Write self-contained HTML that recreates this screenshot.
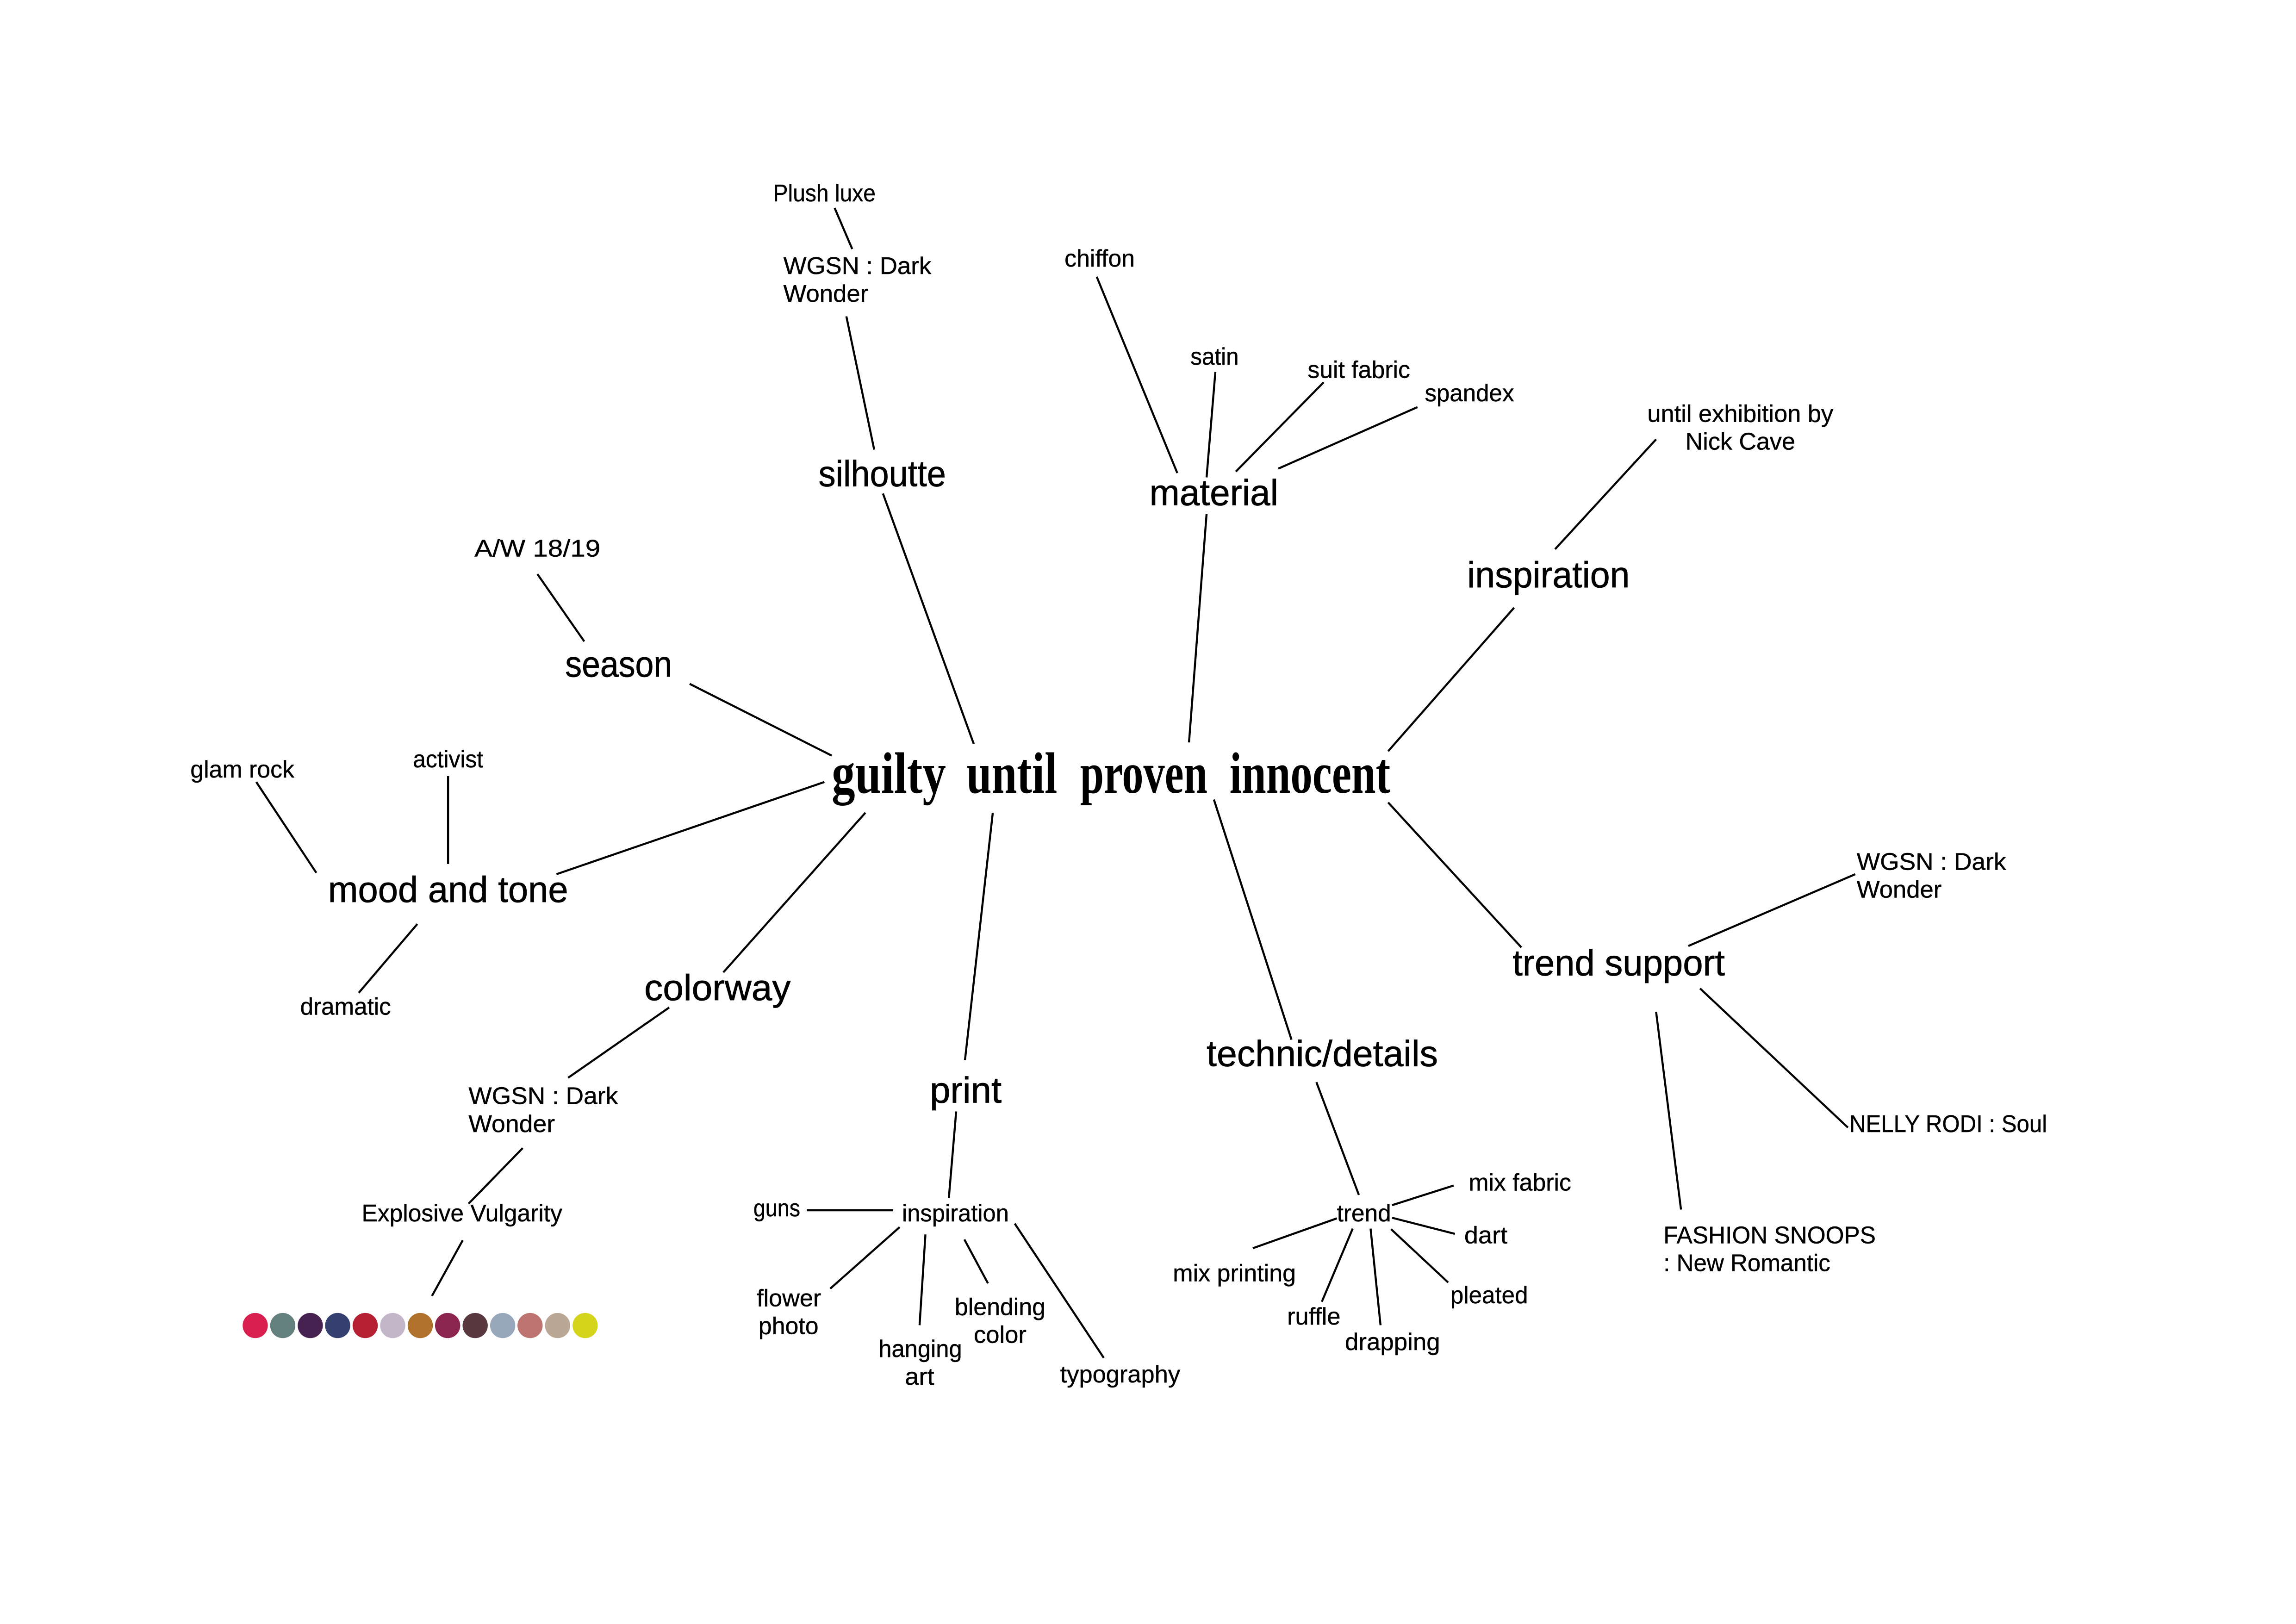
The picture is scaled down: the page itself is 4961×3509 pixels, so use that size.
<!DOCTYPE html>
<html><head><meta charset="utf-8"><title>guilty until proven innocent</title>
<style>
html,body{margin:0;padding:0;background:#fff}
svg{display:block}
text{font-family:"Liberation Sans",sans-serif;fill:#000;stroke:#000;stroke-width:.15px}
.s{font-size:16.5px}
.b{font-size:25px;stroke-width:.25px}
.t{font-family:"Liberation Serif",serif;font-weight:700;font-size:40px;stroke:none}
line{stroke:#000;stroke-width:1.4}
</style></head><body>
<svg xmlns="http://www.w3.org/2000/svg" width="4961" height="3509" viewBox="0 0 1568 1109" style="width:4961px;height:3509px">
<rect width="1568" height="1109" fill="#fff"/>
<g>
<line x1="603" y1="337" x2="665" y2="508"/><line x1="824" y1="351" x2="812" y2="507"/><line x1="1034" y1="415" x2="948" y2="513"/><line x1="948" y1="548" x2="1039" y2="647"/><line x1="829" y1="546" x2="882" y2="710"/><line x1="678" y1="555" x2="659" y2="724"/><line x1="591" y1="555" x2="494" y2="664"/><line x1="563" y1="534" x2="380" y2="597"/><line x1="568" y1="516" x2="471" y2="467"/>
<line x1="399" y1="438" x2="367" y2="392"/><line x1="597" y1="307" x2="578" y2="216"/><line x1="582" y1="170" x2="570" y2="142"/>
<line x1="804" y1="323" x2="749" y2="189"/><line x1="824" y1="326" x2="830" y2="254"/><line x1="844" y1="322" x2="904" y2="261"/><line x1="873" y1="320" x2="968" y2="278"/>
<line x1="1062" y1="375" x2="1131" y2="300"/>
<line x1="216" y1="596" x2="175" y2="534"/><line x1="306" y1="590" x2="306" y2="530"/><line x1="285" y1="631" x2="245" y2="678"/>
<line x1="457" y1="688" x2="388" y2="736"/><line x1="357" y1="784" x2="320" y2="822"/><line x1="316" y1="847" x2="295" y2="885"/>
<line x1="653" y1="759" x2="648" y2="818"/><line x1="610" y1="826.5" x2="551" y2="826.5"/><line x1="614.4" y1="838" x2="567" y2="880"/><line x1="632" y1="843" x2="628" y2="905"/><line x1="658.6" y1="846.4" x2="674.7" y2="876.4"/><line x1="693" y1="835.6" x2="753.8" y2="927.3"/>
<line x1="899" y1="739" x2="928" y2="816"/><line x1="950.7" y1="823" x2="992.7" y2="809.6"/><line x1="950.7" y1="831.6" x2="993.6" y2="842.6"/><line x1="950" y1="839.4" x2="989" y2="875.8"/><line x1="936" y1="839" x2="942.8" y2="905"/><line x1="923.8" y1="839" x2="902.7" y2="889"/><line x1="913" y1="832" x2="855.6" y2="852.4"/>
<line x1="1153" y1="646" x2="1267" y2="597"/><line x1="1161" y1="675" x2="1262" y2="770"/><line x1="1131" y1="691" x2="1148" y2="826"/>
</g>
<g>
<text class="t" x="568" y="541.4" textLength="78" lengthAdjust="spacingAndGlyphs">guilty</text>
<text class="t" x="660" y="541.4" textLength="62" lengthAdjust="spacingAndGlyphs">until</text>
<text class="t" x="737.6" y="541.4" textLength="87" lengthAdjust="spacingAndGlyphs">proven</text>
<text class="t" x="839.7" y="541.4" textLength="109.8" lengthAdjust="spacingAndGlyphs">innocent</text>
</g>
<g>
<text class="b" x="559" y="332" textLength="87" lengthAdjust="spacingAndGlyphs">silhoutte</text>
<text class="b" x="785" y="345" textLength="88" lengthAdjust="spacingAndGlyphs">material</text>
<text class="b" x="1002" y="401" textLength="111" lengthAdjust="spacingAndGlyphs">inspiration</text>
<text class="b" x="386" y="462" textLength="73" lengthAdjust="spacingAndGlyphs">season</text>
<text class="b" x="224" y="616" textLength="164" lengthAdjust="spacingAndGlyphs">mood and tone</text>
<text class="b" x="440" y="683" textLength="100" lengthAdjust="spacingAndGlyphs">colorway</text>
<text class="b" x="635" y="753" textLength="49" lengthAdjust="spacingAndGlyphs">print</text>
<text class="b" x="824" y="728" textLength="158" lengthAdjust="spacingAndGlyphs">technic/details</text>
<text class="b" x="1033" y="666" textLength="145" lengthAdjust="spacingAndGlyphs">trend support</text>
</g>
<g>
<text class="s" x="528" y="137.5" textLength="70" lengthAdjust="spacingAndGlyphs">Plush luxe</text>
<text class="s" x="535" y="187" textLength="101" lengthAdjust="spacingAndGlyphs">WGSN : Dark</text>
<text class="s" x="535" y="206" textLength="58" lengthAdjust="spacingAndGlyphs">Wonder</text>
<text class="s" x="727" y="182" textLength="48" lengthAdjust="spacingAndGlyphs">chiffon</text>
<text class="s" x="813" y="249" textLength="33" lengthAdjust="spacingAndGlyphs">satin</text>
<text class="s" x="893" y="258" textLength="70" lengthAdjust="spacingAndGlyphs">suit fabric</text>
<text class="s" x="973" y="274" textLength="61" lengthAdjust="spacingAndGlyphs">spandex</text>
<text class="s" x="1125" y="288" textLength="127" lengthAdjust="spacingAndGlyphs">until exhibition by</text>
<text class="s" x="1151" y="307" textLength="75" lengthAdjust="spacingAndGlyphs">Nick Cave</text>
<text class="s" x="324" y="380" textLength="86" lengthAdjust="spacingAndGlyphs">A/W 18/19</text>
<text class="s" x="130" y="531" textLength="71" lengthAdjust="spacingAndGlyphs">glam rock</text>
<text class="s" x="282" y="524" textLength="48" lengthAdjust="spacingAndGlyphs">activist</text>
<text class="s" x="205" y="693" textLength="62" lengthAdjust="spacingAndGlyphs">dramatic</text>
<text class="s" x="320" y="754" textLength="102" lengthAdjust="spacingAndGlyphs">WGSN : Dark</text>
<text class="s" x="320" y="773" textLength="59" lengthAdjust="spacingAndGlyphs">Wonder</text>
<text class="s" x="247" y="834" textLength="137" lengthAdjust="spacingAndGlyphs">Explosive Vulgarity</text>
<text class="s" x="616" y="834" textLength="73" lengthAdjust="spacingAndGlyphs">inspiration</text>
<text class="s" x="514.5" y="830.6" textLength="32" lengthAdjust="spacingAndGlyphs">guns</text>
<text class="s" x="516.8" y="892" textLength="44" lengthAdjust="spacingAndGlyphs">flower</text>
<text class="s" x="518" y="911" textLength="41" lengthAdjust="spacingAndGlyphs">photo</text>
<text class="s" x="600" y="926.7" textLength="57" lengthAdjust="spacingAndGlyphs">hanging</text>
<text class="s" x="618" y="945.7" textLength="20" lengthAdjust="spacingAndGlyphs">art</text>
<text class="s" x="652" y="898" textLength="62" lengthAdjust="spacingAndGlyphs">blending</text>
<text class="s" x="665" y="917" textLength="36" lengthAdjust="spacingAndGlyphs">color</text>
<text class="s" x="724" y="944" textLength="82" lengthAdjust="spacingAndGlyphs">typography</text>
<text class="s" x="913" y="834" textLength="37" lengthAdjust="spacingAndGlyphs">trend</text>
<text class="s" x="1003" y="813" textLength="70" lengthAdjust="spacingAndGlyphs">mix fabric</text>
<text class="s" x="1000" y="849" textLength="29.5" lengthAdjust="spacingAndGlyphs">dart</text>
<text class="s" x="990.5" y="890" textLength="53" lengthAdjust="spacingAndGlyphs">pleated</text>
<text class="s" x="918.5" y="922" textLength="65" lengthAdjust="spacingAndGlyphs">drapping</text>
<text class="s" x="879" y="904.5" textLength="36.5" lengthAdjust="spacingAndGlyphs">ruffle</text>
<text class="s" x="801" y="875" textLength="84" lengthAdjust="spacingAndGlyphs">mix printing</text>
<text class="s" x="1268" y="594" textLength="102" lengthAdjust="spacingAndGlyphs">WGSN : Dark</text>
<text class="s" x="1268" y="613" textLength="58" lengthAdjust="spacingAndGlyphs">Wonder</text>
<text class="s" x="1263" y="773" textLength="135" lengthAdjust="spacingAndGlyphs">NELLY RODI : Soul</text>
<text class="s" x="1136" y="849" textLength="145" lengthAdjust="spacingAndGlyphs">FASHION SNOOPS</text>
<text class="s" x="1136" y="868" textLength="114" lengthAdjust="spacingAndGlyphs">: New Romantic</text>
</g>
<g>
<circle cx="174.3" cy="905.2" r="8.6" fill="#d81f50"/>
<circle cx="193.1" cy="905.2" r="8.6" fill="#65817e"/>
<circle cx="211.9" cy="905.2" r="8.6" fill="#452250"/>
<circle cx="230.6" cy="905.2" r="8.6" fill="#354070"/>
<circle cx="249.4" cy="905.2" r="8.6" fill="#b52033"/>
<circle cx="268.2" cy="905.2" r="8.6" fill="#c4b6c9"/>
<circle cx="287" cy="905.2" r="8.6" fill="#b0722a"/>
<circle cx="305.7" cy="905.2" r="8.6" fill="#8b2550"/>
<circle cx="324.5" cy="905.2" r="8.6" fill="#5a383f"/>
<circle cx="343.3" cy="905.2" r="8.6" fill="#97a8ba"/>
<circle cx="362" cy="905.2" r="8.6" fill="#bd7370"/>
<circle cx="380.8" cy="905.2" r="8.6" fill="#baa796"/>
<circle cx="399.6" cy="905.2" r="8.6" fill="#d5d41c"/>
</g>
</svg>
</body></html>
